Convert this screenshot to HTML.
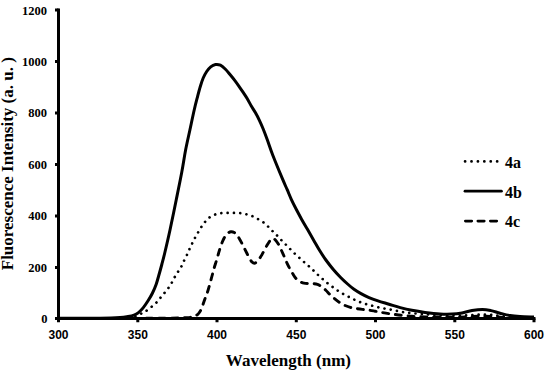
<!DOCTYPE html>
<html><head><meta charset="utf-8"><style>
html,body{margin:0;padding:0;background:#fff;}
body{width:550px;height:373px;overflow:hidden;position:relative;}
svg{position:absolute;left:0;top:0;}
.serif{font-family:"Liberation Serif",serif;font-weight:bold;fill:#000;}
.sans{font-family:"Liberation Sans",sans-serif;font-weight:bold;fill:#000;}
</style></head><body>
<svg width="550" height="373" viewBox="0 0 550 373">
<g class="serif" font-size="12.5" text-anchor="end">
<text x="47" y="14.6">1200</text>
<text x="47" y="66">1000</text>
<text x="47" y="117.4">800</text>
<text x="47" y="168.8">600</text>
<text x="47" y="220.2">400</text>
<text x="47" y="271.8">200</text>
<text x="47.5" y="322.8">0</text>
</g>
<g class="sans" font-size="12" text-anchor="middle">
<text x="58.5" y="339">300</text>
<text x="137.8" y="339">350</text>
<text x="217" y="339">400</text>
<text x="296.3" y="339">450</text>
<text x="375.5" y="339">500</text>
<text x="454.8" y="339">550</text>
<text x="534" y="339">600</text>
</g>
<text class="serif" font-size="17" x="288.4" y="366" text-anchor="middle">Wavelength (nm)</text>
<text class="serif" font-size="17" transform="translate(13.4,163.7) rotate(-90)" text-anchor="middle">Fluorescence Intensity (a. u. )</text>
<g class="serif" font-size="16">
<text x="505" y="167.5">4a</text>
<text x="505" y="197.5">4b</text>
<text x="505" y="227.2">4c</text>
</g>
<g stroke="#000" fill="none">
<line x1="465.1" y1="161.4" x2="498" y2="161.4" stroke-width="2.8" stroke-dasharray="0.01 6.4" stroke-linecap="round"/>
<line x1="465" y1="191.2" x2="501.4" y2="191.2" stroke-width="2.8" stroke-linecap="round"/>
<line x1="465.4" y1="221.1" x2="498" y2="221.1" stroke-width="2.8" stroke-dasharray="6.3 6.2" stroke-linecap="round"/>
</g>
<g stroke="#000" stroke-width="3" fill="none" stroke-linecap="butt">
<line x1="58.5" y1="8.6" x2="58.5" y2="320"/>
<line x1="55" y1="318.5" x2="535.5" y2="318.5"/>
<path d="M55,10H58.5 M55,61.6H58.5 M55,113.1H58.5 M55,164.6H58.5 M55,216.1H58.5 M55,267.6H58.5 M55,318.5H58.5"/>
<path d="M58.5,318.5V322.3 M137.8,318.5V322.3 M217,318.5V322.3 M296.3,318.5V322.3 M375.5,318.5V322.3 M454.8,318.5V322.3 M534,318.5V322.3"/>
</g>
<g fill="none" stroke="#000" stroke-linejoin="round">
<path d="M128.00,317.80 C129.00,317.63 131.90,317.45 134.00,316.80 C136.10,316.15 138.67,314.82 140.60,313.90 C142.53,312.98 143.88,312.40 145.60,311.30 C147.32,310.20 149.18,308.67 150.90,307.30 C152.62,305.93 154.37,304.62 155.90,303.10 C157.43,301.58 158.72,299.83 160.10,298.20 C161.48,296.57 162.85,294.95 164.20,293.30 C165.55,291.65 166.97,290.02 168.20,288.30 C169.43,286.58 170.55,284.80 171.60,283.00 C172.65,281.20 173.47,279.32 174.50,277.50 C175.53,275.68 176.68,273.88 177.80,272.10 C178.92,270.32 180.17,268.68 181.20,266.80 C182.23,264.92 183.05,262.77 184.00,260.80 C184.95,258.83 185.98,256.95 186.90,255.00 C187.82,253.05 188.62,251.03 189.50,249.10 C190.38,247.17 191.28,245.28 192.20,243.40 C193.12,241.52 193.97,239.73 195.00,237.80 C196.03,235.87 197.28,233.70 198.40,231.80 C199.52,229.90 200.55,228.10 201.70,226.40 C202.85,224.70 203.98,223.10 205.30,221.60 C206.62,220.10 207.95,218.58 209.60,217.40 C211.25,216.22 213.27,215.22 215.20,214.50 C217.13,213.78 219.15,213.37 221.20,213.10 C223.25,212.83 225.40,212.93 227.50,212.90 C229.60,212.87 231.68,212.87 233.80,212.90 C235.92,212.93 238.08,212.87 240.20,213.10 C242.32,213.33 244.47,213.78 246.50,214.30 C248.53,214.82 250.47,215.38 252.40,216.20 C254.33,217.02 256.23,218.15 258.10,219.20 C259.97,220.25 261.90,221.23 263.60,222.50 C265.30,223.77 266.77,225.32 268.30,226.80 C269.83,228.28 271.33,229.93 272.80,231.40 C274.27,232.87 275.65,234.12 277.10,235.60 C278.55,237.08 280.03,238.78 281.50,240.30 C282.97,241.82 284.43,243.22 285.90,244.70 C287.37,246.18 288.82,247.70 290.30,249.20 C291.78,250.70 293.27,252.23 294.80,253.70 C296.33,255.17 297.92,256.57 299.50,258.00 C301.08,259.43 302.70,260.90 304.30,262.30 C305.90,263.70 307.55,265.02 309.10,266.40 C310.65,267.78 312.12,269.18 313.60,270.60 C315.08,272.02 316.47,273.47 318.00,274.90 C319.53,276.33 321.20,277.80 322.80,279.20 C324.40,280.60 325.92,281.97 327.60,283.30 C329.28,284.63 331.15,285.95 332.90,287.20 C334.65,288.45 336.37,289.67 338.10,290.80 C339.83,291.93 341.47,292.97 343.30,294.00 C345.13,295.03 347.17,296.02 349.10,297.00 C351.03,297.98 352.93,299.00 354.90,299.90 C356.87,300.80 358.92,301.67 360.90,302.40 C362.88,303.13 364.80,303.72 366.80,304.30 C368.80,304.88 370.90,305.38 372.90,305.90 C374.90,306.42 376.78,306.95 378.80,307.40 C380.82,307.85 382.92,308.22 385.00,308.60 C387.08,308.98 389.23,309.30 391.30,309.70 C393.37,310.10 395.42,310.58 397.40,311.00 C399.38,311.42 400.77,311.83 403.20,312.20 C405.63,312.57 408.37,312.87 412.00,313.20 C415.63,313.53 420.33,313.85 425.00,314.20 C429.67,314.55 435.00,315.03 440.00,315.30 C445.00,315.57 450.33,315.80 455.00,315.80 C459.67,315.80 463.83,315.50 468.00,315.30 C472.17,315.10 476.00,314.65 480.00,314.60 C484.00,314.55 487.83,314.68 492.00,315.00 C496.17,315.32 500.33,316.07 505.00,316.50 C509.67,316.93 515.17,317.38 520.00,317.60 C524.83,317.82 531.67,317.77 534.00,317.80" stroke-width="2.7" stroke-dasharray="0.01 6.3" stroke-dashoffset="-1.3" stroke-linecap="round"/>
<path d="M58.50,318.40 C73.75,318.38 128.92,318.40 150.00,318.30 C171.08,318.20 178.33,317.95 185.00,317.80 C191.67,317.65 188.50,317.63 190.00,317.40 C191.50,317.17 192.75,316.87 194.00,316.40 C195.25,315.93 196.50,315.42 197.50,314.60 C198.50,313.78 199.25,312.73 200.00,311.50 C200.75,310.27 201.33,308.87 202.00,307.20 C202.67,305.53 203.33,303.37 204.00,301.50 C204.67,299.63 205.33,297.83 206.00,296.00 C206.67,294.17 207.33,292.58 208.00,290.50 C208.67,288.42 209.33,285.92 210.00,283.50 C210.67,281.08 211.33,278.50 212.00,276.00 C212.67,273.50 213.25,271.08 214.00,268.50 C214.75,265.92 215.75,263.00 216.50,260.50 C217.25,258.00 217.87,255.67 218.50,253.50 C219.13,251.33 219.63,249.50 220.30,247.50 C220.97,245.50 221.72,243.33 222.50,241.50 C223.28,239.67 224.08,237.92 225.00,236.50 C225.92,235.08 227.00,233.80 228.00,233.00 C229.00,232.20 229.95,231.78 231.00,231.70 C232.05,231.62 233.30,231.95 234.30,232.50 C235.30,233.05 236.13,233.92 237.00,235.00 C237.87,236.08 238.67,237.58 239.50,239.00 C240.33,240.42 241.17,241.92 242.00,243.50 C242.83,245.08 243.67,246.83 244.50,248.50 C245.33,250.17 246.17,251.87 247.00,253.50 C247.83,255.13 248.67,256.88 249.50,258.30 C250.33,259.72 251.17,261.18 252.00,262.00 C252.83,262.82 253.67,263.23 254.50,263.20 C255.33,263.17 256.17,262.57 257.00,261.80 C257.83,261.03 258.67,259.80 259.50,258.60 C260.33,257.40 261.17,256.07 262.00,254.60 C262.83,253.13 263.67,251.35 264.50,249.80 C265.33,248.25 266.17,246.72 267.00,245.30 C267.83,243.88 268.70,242.40 269.50,241.30 C270.30,240.20 271.05,239.10 271.80,238.70 C272.55,238.30 273.22,238.47 274.00,238.90 C274.78,239.33 275.67,240.25 276.50,241.30 C277.33,242.35 278.17,243.67 279.00,245.20 C279.83,246.73 280.58,248.50 281.50,250.50 C282.42,252.50 283.58,255.10 284.50,257.20 C285.42,259.30 286.12,261.20 287.00,263.10 C287.88,265.00 288.83,266.82 289.80,268.60 C290.77,270.38 291.77,272.15 292.80,273.80 C293.83,275.45 294.83,277.20 296.00,278.50 C297.17,279.80 298.47,280.82 299.80,281.60 C301.13,282.38 302.55,282.87 304.00,283.20 C305.45,283.53 307.00,283.53 308.50,283.60 C310.00,283.67 311.50,283.47 313.00,283.60 C314.50,283.73 316.08,283.92 317.50,284.40 C318.92,284.88 320.12,285.53 321.50,286.50 C322.88,287.47 324.38,288.85 325.80,290.20 C327.22,291.55 328.55,293.20 330.00,294.60 C331.45,296.00 332.92,297.30 334.50,298.60 C336.08,299.90 337.83,301.30 339.50,302.40 C341.17,303.50 342.68,304.37 344.50,305.20 C346.32,306.03 348.48,306.85 350.40,307.40 C352.32,307.95 354.03,308.17 356.00,308.50 C357.97,308.83 360.18,309.15 362.20,309.40 C364.22,309.65 365.95,309.70 368.10,310.00 C370.25,310.30 372.87,310.80 375.10,311.20 C377.33,311.60 379.25,312.00 381.50,312.40 C383.75,312.80 386.35,313.25 388.60,313.60 C390.85,313.95 392.77,314.22 395.00,314.50 C397.23,314.78 399.17,315.02 402.00,315.30 C404.83,315.58 408.17,315.93 412.00,316.20 C415.83,316.47 420.33,316.72 425.00,316.90 C429.67,317.08 435.00,317.23 440.00,317.30 C445.00,317.37 450.33,317.38 455.00,317.30 C459.67,317.22 463.83,316.98 468.00,316.80 C472.17,316.62 476.00,316.23 480.00,316.20 C484.00,316.17 487.83,316.38 492.00,316.60 C496.17,316.82 498.00,317.27 505.00,317.50 C512.00,317.73 529.17,317.92 534.00,318.00" stroke-width="2.9" stroke-dasharray="6 6.8" stroke-dashoffset="2" stroke-linecap="round"/>
<path d="M58.50,318.30 C65.42,318.28 89.75,318.32 100.00,318.20 C110.25,318.08 115.33,317.87 120.00,317.60 C124.67,317.33 125.67,317.00 128.00,316.60 C130.33,316.20 132.25,315.87 134.00,315.20 C135.75,314.53 136.95,313.87 138.50,312.60 C140.05,311.33 141.68,309.62 143.30,307.60 C144.92,305.58 146.67,302.93 148.20,300.50 C149.73,298.07 151.17,295.72 152.50,293.00 C153.83,290.28 155.08,287.37 156.20,284.20 C157.32,281.03 158.27,277.28 159.20,274.00 C160.13,270.72 160.92,267.83 161.80,264.50 C162.68,261.17 163.13,259.75 164.50,254.00 C165.87,248.25 168.05,239.00 170.00,230.00 C171.95,221.00 174.23,209.67 176.20,200.00 C178.17,190.33 180.23,180.33 181.80,172.00 C183.37,163.67 184.25,157.00 185.60,150.00 C186.95,143.00 188.47,136.67 189.90,130.00 C191.33,123.33 192.93,115.53 194.20,110.00 C195.47,104.47 196.48,100.72 197.50,96.80 C198.52,92.88 199.35,89.63 200.30,86.50 C201.25,83.37 202.13,80.50 203.20,78.00 C204.27,75.50 205.45,73.37 206.70,71.50 C207.95,69.63 209.23,67.97 210.70,66.80 C212.17,65.63 213.88,64.77 215.50,64.50 C217.12,64.23 218.78,64.45 220.40,65.20 C222.02,65.95 223.60,67.45 225.20,69.00 C226.80,70.55 228.38,72.57 230.00,74.50 C231.62,76.43 233.28,78.47 234.90,80.60 C236.52,82.73 238.23,85.20 239.70,87.30 C241.17,89.40 242.43,91.28 243.70,93.20 C244.97,95.12 246.03,96.67 247.30,98.80 C248.57,100.93 249.93,103.67 251.30,106.00 C252.67,108.33 254.15,110.42 255.50,112.80 C256.85,115.18 258.12,117.60 259.40,120.30 C260.68,123.00 261.90,125.80 263.20,129.00 C264.50,132.20 265.58,135.08 267.20,139.50 C268.82,143.92 270.33,148.88 272.90,155.50 C275.47,162.12 280.22,173.50 282.60,179.20 C284.98,184.90 285.75,186.35 287.20,189.70 C288.65,193.05 289.82,196.08 291.30,199.30 C292.78,202.52 294.37,205.65 296.10,209.00 C297.83,212.35 299.83,216.05 301.70,219.40 C303.57,222.75 305.28,225.58 307.30,229.10 C309.32,232.62 311.77,236.97 313.80,240.50 C315.83,244.03 317.48,247.05 319.50,250.30 C321.52,253.55 323.63,256.85 325.90,260.00 C328.17,263.15 330.68,266.33 333.10,269.20 C335.52,272.07 337.98,274.73 340.40,277.20 C342.82,279.67 345.33,281.98 347.60,284.00 C349.87,286.02 351.77,287.70 354.00,289.30 C356.23,290.90 358.50,292.22 361.00,293.60 C363.50,294.98 366.17,296.38 369.00,297.60 C371.83,298.82 374.67,299.80 378.00,300.90 C381.33,302.00 385.28,303.08 389.00,304.20 C392.72,305.32 396.48,306.58 400.30,307.60 C404.12,308.62 407.78,309.50 411.90,310.30 C416.02,311.10 420.32,311.78 425.00,312.40 C429.68,313.02 435.50,313.72 440.00,314.00 C444.50,314.28 448.33,314.28 452.00,314.10 C455.67,313.92 458.67,313.50 462.00,312.90 C465.33,312.30 468.58,311.08 472.00,310.50 C475.42,309.92 479.33,309.38 482.50,309.40 C485.67,309.42 488.08,309.97 491.00,310.60 C493.92,311.23 496.83,312.37 500.00,313.20 C503.17,314.03 506.67,315.03 510.00,315.60 C513.33,316.17 516.00,316.37 520.00,316.60 C524.00,316.83 531.67,316.93 534.00,317.00" stroke-width="3"/>
</g>
</svg>
</body></html>
